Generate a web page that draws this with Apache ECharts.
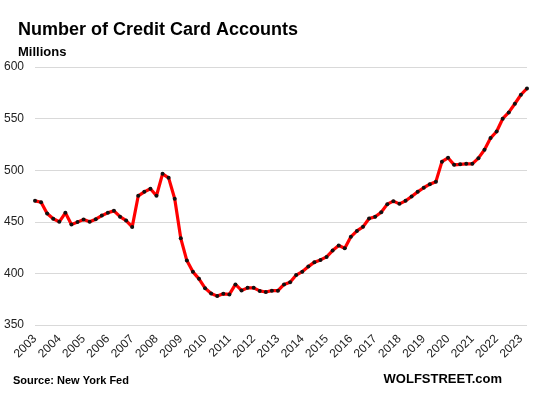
<!DOCTYPE html>
<html>
<head>
<meta charset="utf-8">
<script src="https://cdn.jsdelivr.net/npm/echarts@6/dist/echarts.min.js"></script>
<style>
html,body{margin:0;padding:0;background:#fff;}
#chart{width:539px;height:396px;}
</style>
</head>
<body>
<div id="chart"></div>
<script>
const years = [2003,2004,2005,2006,2007,2008,2009,2010,2011,2012,2013,2014,2015,2016,2017,2018,2019,2020,2021,2022,2023];
const quarters = ['Q1','Q2','Q3','Q4'];
const accounts = [
  470.3, 469.0, 458.0, 452.9, 450.0, 458.7, 447.3, 449.7, 452.2, 450.0,
  452.5, 456.0, 458.7, 460.6, 455.0, 451.2, 445.0, 475.2, 479.0, 482.0,
  475.2, 496.5, 492.6, 472.3, 434.0, 412.4, 401.5, 394.7, 385.7, 380.5,
  378.0, 380.2, 379.6, 389.3, 383.5, 386.0, 386.0, 383.0, 382.0, 383.3,
  383.3, 389.3, 391.4, 398.4, 401.7, 406.6, 410.9, 413.1, 416.0, 422.1,
  427.0, 424.4, 435.4, 441.2, 445.1, 453.2, 454.8, 459.3, 467.1, 470.0,
  467.4, 470.3, 474.5, 479.0, 483.0, 486.4, 488.9, 508.3, 512.0, 505.2,
  505.7, 506.2, 506.2, 511.7, 519.8, 531.1, 537.5, 549.9, 556.0, 564.4,
  573.1, 579.2
];
const yTicks = [350, 400, 450, 500, 550, 600];

const categories = [];
for (const y of years) for (const q of quarters) {
  if (categories.length < accounts.length) categories.push(y + ' ' + q);
}

const font = 'Liberation Sans, Arial';
const chart = echarts.init(document.getElementById('chart'));
chart.setOption({
  animation: false,
  backgroundColor: '#fff',
  title: [
    {text: 'Number of Credit Card Accounts', left: 18, top: 21, padding: 0,
     textStyle: {fontFamily: font, fontSize: 18, fontWeight: 'bold', color: '#000'}},
    {text: 'Millions', left: 18, top: 46, padding: 0,
     textStyle: {fontFamily: font, fontSize: 13, fontWeight: 'bold', color: '#000'}},
    {text: 'Source: New York Fed', left: 13, top: 375, padding: 0,
     textStyle: {fontFamily: font, fontSize: 11, fontWeight: 'bold', color: '#000'}},
    {text: 'WOLFSTREET.com', right: 37, top: 373, padding: 0,
     textStyle: {fontFamily: font, fontSize: 13, fontWeight: 'bold', color: '#000'}}
  ],
  grid: {left: 35, right: 12, top: 67, bottom: 71},
  xAxis: {
    type: 'category',
    data: categories,
    boundaryGap: false,
    axisLine: {show: false},
    axisTick: {show: false},
    splitLine: {show: false},
    axisLabel: {
      interval: 3, rotate: 45, margin: 12,
      fontFamily: font, fontSize: 12, color: '#222',
      formatter: v => v.split(' ')[0]
    }
  },
  yAxis: {
    type: 'value',
    min: yTicks[0], max: yTicks[yTicks.length - 1], interval: 50,
    axisLine: {show: false},
    axisTick: {show: false},
    splitLine: {lineStyle: {color: '#d9d9d9', width: 1}},
    axisLabel: {fontFamily: font, fontSize: 12, color: '#222', margin: 11}
  },
  series: [{
    type: 'line',
    data: accounts,
    symbol: 'circle',
    symbolSize: 4,
    showSymbol: true,
    lineStyle: {color: '#ff0000', width: 3.2},
    itemStyle: {color: '#111', borderWidth: 0}
  }]
});
</script>
</body>
</html>
